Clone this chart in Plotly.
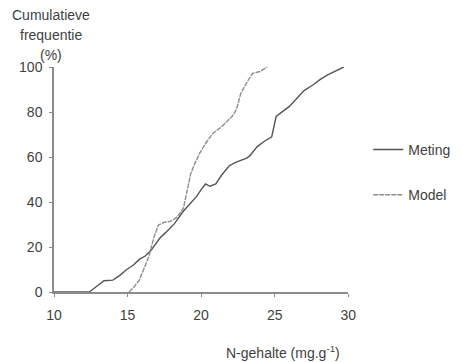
import plotly.graph_objects as go

# Data
meting_x = [10, 12.4, 12.6, 13.0, 13.4, 14.0, 14.5, 14.9, 15.4, 15.8, 16.2, 16.6, 16.9, 17.2, 17.6,
            18.2, 18.8, 19.2, 19.7, 20.0, 20.3, 20.6, 21.0, 21.4, 21.9, 22.3, 22.7, 23.1, 23.3,
            23.8, 24.3, 24.8, 25.1, 25.5, 26.0, 26.5, 27.0, 27.6, 28.1, 28.6, 29.2, 29.7]
meting_y = [0, 0, 1, 3, 5, 5.3, 7.5, 9.8, 12, 14.5, 16, 18.5, 21, 24, 26.5,
            30.5, 36, 39, 42.5, 45.5, 48, 47, 48, 52, 56, 57.5, 58.5, 59.5, 60.5,
            64.5, 67, 69, 78, 80, 82.5, 86, 89.5, 92, 94.5, 96.5, 98.5, 100]

model_x = [15.1, 15.4, 15.8, 16.1, 16.45, 16.8, 17.1, 17.5, 17.8, 18.1, 18.4, 18.8, 19.0, 19.3,
           19.6, 19.9, 20.3, 20.8, 21.4, 22.1, 22.4, 22.7, 23.1, 23.5, 24.0, 24.5]
model_y = [0, 2, 5.3, 10, 15.7, 24.5, 29.8, 31, 31.2, 32, 33.5, 37.3, 44, 52.7,
           57.5, 61.6, 66, 70.5, 73.5, 78, 81, 88.4, 93, 97.2, 98, 100]

x_ticks = [10, 15, 20, 25, 30]
y_ticks = [0, 20, 40, 60, 80, 100]

FONT = "Liberation Sans, Arial, sans-serif"
TXT = "#3f3f3f"
AX = "#8c8c8c"

fig = go.Figure()
fig.add_trace(go.Scatter(x=meting_x, y=meting_y, mode="lines", name="Meting",
                         legendgroup="a",
                         line=dict(color="#555555", width=1.4)))
fig.add_trace(go.Scatter(x=model_x, y=model_y, mode="lines", name="Model",
                         legendgroup="b",
                         line=dict(color="#8e8e8e", width=1.4, dash="5px,1px")))

fig.update_layout(
    width=462, height=362,
    margin=dict(l=54, r=99, t=67, b=70),
    paper_bgcolor="white", plot_bgcolor="white",
    font=dict(family=FONT, size=14, color=TXT),
    legend=dict(xref="container", yref="container", x=0.797, y=0.63,
                xanchor="left", yanchor="top", tracegroupgap=24,
                bgcolor="rgba(0,0,0,0)", font=dict(size=14, color=TXT)),
    xaxis=dict(range=[10, 30], tickvals=x_ticks, showgrid=False, zeroline=False,
               showline=True, linecolor=AX, linewidth=1.5,
               ticks="outside", ticklen=3, tickcolor=AX, tickwidth=1,
               ticklabelstandoff=6),
    yaxis=dict(range=[0, 100], tickvals=y_ticks, showgrid=False, zeroline=False,
               showline=True, linecolor=AX, linewidth=1.5,
               ticks="outside", ticklen=3, tickcolor=AX, tickwidth=1,
               ticklabelstandoff=4),
)

for txt, ypx in [("Cumulatieve", 15), ("frequentie", 35), ("(%)", 55)]:
    fig.add_annotation(text=txt, xref="paper", yref="paper",
                       x=(51 - 54) / 309, y=1 + (67 - ypx) / 225,
                       xanchor="center", yanchor="middle", showarrow=False,
                       font=dict(size=14, color=TXT))

fig.add_annotation(text="N-gehalte (mg.g<sup>-1</sup>)", xref="paper", yref="paper",
                   x=(295 - 54) / 309, y=-(352 - 292) / 225,
                   xanchor="center", yanchor="middle", showarrow=False,
                   font=dict(size=14, color=TXT))

fig.write_html("out.html")
